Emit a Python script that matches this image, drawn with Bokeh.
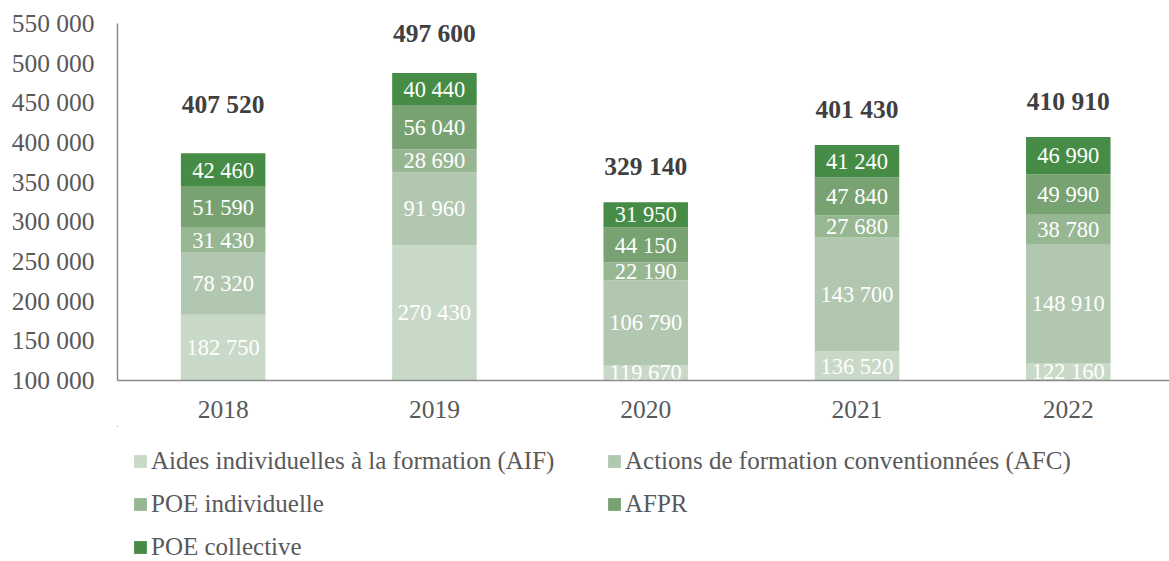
import numpy as np
from bokeh.plotting import figure
from bokeh.layouts import column
from bokeh.models import ColumnDataSource, Range1d, FixedTicker, Legend, LegendItem
from bokeh.core.properties import value
from bokeh.embed import file_html
from bokeh.resources import INLINE

years = ["2018", "2019", "2020", "2021", "2022"]
series_names = [
    "Aides individuelles à la formation (AIF)",
    "Actions de formation conventionnées (AFC)",
    "POE individuelle",
    "AFPR",
    "POE collective",
]
aif = [182750, 270430, 119670, 136520, 122160]
afc = [78320, 91960, 106790, 143700, 148910]
poe_ind = [31430, 28690, 22190, 27680, 38780]
afpr = [51590, 56040, 44150, 47840, 49990]
poe_coll = [42460, 40440, 31950, 41240, 46990]
totals = [407520, 497600, 329140, 401430, 410910]
colors = ["#c9d9c7", "#b2c7b0", "#97b692", "#78a272", "#468c46"]
y_ticks = [100000, 150000, 200000, 250000, 300000, 350000, 400000, 450000, 500000, 550000]


def fmt(v):
    return f"{v:,}".replace(",", " ")


FONT = "Liberation Serif"
Y0, Y1 = 100000, 550000

x = np.arange(len(years))
p = figure(width=1169, height=426, output_backend="svg", toolbar_location=None,
           x_range=Range1d(-0.5, len(years) - 0.521), y_range=Range1d(Y0, Y1),
           min_border_left=117, min_border_right=0, min_border_top=23,
           min_border_bottom=46)
p.outline_line_color = None
p.xgrid.visible = False
p.ygrid.visible = False

# legend panel (second figure below the chart; same data, kept out of its view)
p2 = figure(width=1169, height=135, output_backend="svg", toolbar_location=None,
            x_range=Range1d(100, 101), y_range=Range1d(-2, -1),
            min_border=0, x_axis_type=None, y_axis_type=None)
p2.outline_line_color = None
p2.xgrid.visible = False
p2.ygrid.visible = False

series = [aif, afc, poe_ind, afpr, poe_coll]
bottom = np.zeros(len(years))
leg_renderers = []
for name, vals, col in zip(series_names, series, colors):
    vals = np.array(vals, dtype=float)
    top = bottom + vals
    vis_bottom = np.maximum(bottom, Y0)
    mid = (vis_bottom + top) / 2
    src = ColumnDataSource(dict(x=x, bottom=bottom, top=top, mid=mid,
                                lbl=[fmt(int(v)) for v in vals]))
    p.vbar(x="x", bottom="bottom", top="top", width=0.4, source=src,
           fill_color=col, line_color=None)
    p.text(x="x", y="mid", text="lbl", source=src, text_align="center",
           text_baseline="middle", text_color="white",
           text_font=value(FONT), text_font_size="22.5px")
    leg_renderers.append(p2.vbar(x="x", bottom="bottom", top="top", width=0.4,
                                 source=src, fill_color=col, line_color=None))
    bottom = top

tsrc = ColumnDataSource(dict(x=x, y=totals, lbl=[fmt(v) for v in totals]))
p.text(x="x", y="y", text="lbl", source=tsrc, text_align="center",
       text_baseline="middle", y_offset=-32, text_color="#404040",
       text_font=value(FONT), text_font_size="25.5px", text_font_style="bold")

# axes
p.yaxis.ticker = FixedTicker(ticks=y_ticks)
p.yaxis.major_label_overrides = {t: fmt(t) for t in y_ticks}
p.xaxis.ticker = FixedTicker(ticks=list(x))
p.xaxis.major_label_overrides = {int(i): y for i, y in zip(x, years)}
for ax in (p.xaxis, p.yaxis):
    ax.major_tick_line_color = None
    ax.minor_tick_line_color = None
    ax.axis_line_color = "#8a8a8a"
    ax.axis_line_width = 1.5
    ax.major_label_text_font = FONT
    ax.major_label_text_font_size = "25.5px"
    ax.major_label_text_color = "#595959"
p.yaxis.major_label_standoff = 17
p.xaxis.major_label_standoff = 14

legend = Legend(items=[LegendItem(label=n, renderers=[r]) for n, r in zip(series_names, leg_renderers)],
                location=(15, 0), orientation="horizontal", ncols=2,
                glyph_width=16, glyph_height=16, label_standoff=3,
                spacing=15, label_width=440, margin=0, padding=0,
                border_line_color=None, background_fill_alpha=0,
                label_text_font=FONT, label_text_font_size="25px",
                label_text_color="#595959")
p2.add_layout(legend, "center")

open("out.html", "w").write(file_html(column(p, p2, spacing=0), INLINE))
